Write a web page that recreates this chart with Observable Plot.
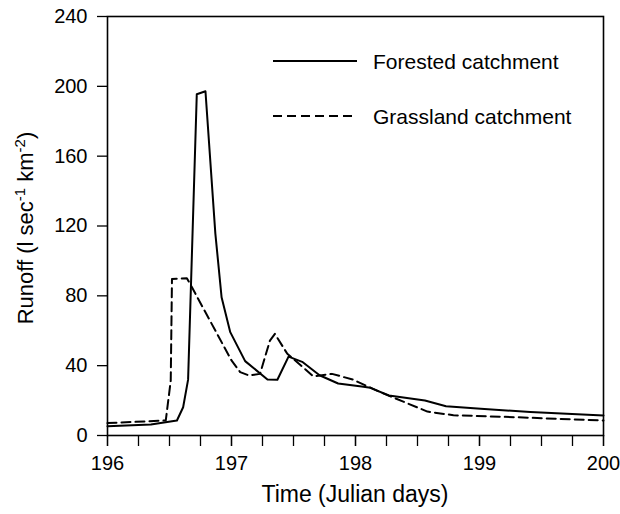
<!DOCTYPE html>
<html><head><meta charset="utf-8">
<script src="https://cdn.jsdelivr.net/npm/d3@7"></script>
<script src="https://cdn.jsdelivr.net/npm/@observablehq/plot@0.6"></script>
<style>
body{margin:0;background:#fff;font-family:"Liberation Sans",Arial,sans-serif}
#chart{position:relative;width:620px;height:514px}
</style>
</head><body><div id="chart"></div>
<script>
// Forested catchment (solid)
const forestedDay = [196.0, 196.35, 196.56, 196.61, 196.65, 196.72, 196.79, 196.87, 196.92, 196.99, 197.11, 197.29, 197.37, 197.46, 197.57, 197.71, 197.86, 198.05, 198.12, 198.27, 198.56, 198.73, 199.01, 199.41, 200.0];
const forestedRunoff = [5.3, 6.3, 8.6, 16.2, 32, 195.5, 197.2, 115.5, 79.2, 59.2, 42.6, 32.1, 31.9, 45.2, 42.2, 34.5, 29.8, 28.1, 27.3, 22.9, 20.0, 16.8, 15.3, 13.4, 11.5];
// Grassland catchment (dashed)
const grassDay = [196.0, 196.47, 196.51, 196.52, 196.64, 196.68, 197.0, 197.07, 197.14, 197.23, 197.31, 197.35, 197.45, 197.56, 197.66, 197.81, 197.98, 198.2, 198.58, 198.79, 199.28, 200.0];
const grassRunoff = [7.1, 8.6, 31.5, 89.7, 90.1, 85, 43, 36.3, 34.4, 35.3, 54.4, 58.2, 46.8, 40.1, 33.9, 35.3, 32.0, 24.8, 13.7, 11.6, 10.5, 8.6];

const xTickLabels = [196, 197, 198, 199, 200];
const xMinorTicks = d3.range(196, 200.001, 0.25);
const yTickLabels = [0, 40, 80, 120, 160, 200, 240];
const seriesNames = ["Forested catchment", "Grassland catchment"];

const forested = forestedDay.map((d, i) => ({day: d, runoff: forestedRunoff[i]}));
const grass = grassDay.map((d, i) => ({day: d, runoff: grassRunoff[i]}));

const W = 620, H = 514;
const mL = 107, mR = 17, mT = 16, mB = 79;

const plot = Plot.plot({
  width: W, height: H,
  marginLeft: mL, marginRight: mR, marginTop: mT, marginBottom: mB,
  style: {fontSize: "20px", fontFamily: "'Liberation Sans', Arial, sans-serif", background: "#fff", color: "#000"},
  x: {domain: [196, 200]},
  y: {domain: [0, 240]},
  marks: [
    Plot.axisY({ticks: yTickLabels, tickSize: 10, tickPadding: 10, label: null, stroke: "#000", strokeWidth: 1.3, fontSize: 20}),
    Plot.axisX({ticks: xMinorTicks, tickSize: 11, tickFormat: () => "", label: null, stroke: "#000", strokeWidth: 1.3}),
    Plot.axisX({ticks: xTickLabels, tickSize: 11, tickPadding: 9, tickFormat: d => String(d), label: null, stroke: "#000", strokeWidth: 1.3, fontSize: 20}),
    Plot.line(grass, {x: "day", y: "runoff", stroke: "#000", strokeWidth: 2, strokeDasharray: "9,5"}),
    Plot.line(forested, {x: "day", y: "runoff", stroke: "#000", strokeWidth: 2}),
    Plot.frame({stroke: "#000", strokeWidth: 1.6})
  ]
});
document.getElementById("chart").appendChild(plot);

const svg = d3.select(plot);
// Y axis label with superscripts
const yl = svg.append("text")
  .attr("transform", `translate(33,228) rotate(-90)`)
  .attr("text-anchor", "middle")
  .attr("font-size", 22).attr("fill", "#000");
yl.append("tspan").text("Runoff (l sec");
yl.append("tspan").attr("dy", -8).attr("font-size", 15).text("-1");
yl.append("tspan").attr("dy", 8).text(" km");
yl.append("tspan").attr("dy", -8).attr("font-size", 15).text("-2");
yl.append("tspan").attr("dy", 8).text(")");
// X axis label
svg.append("text")
  .attr("x", 355).attr("y", 502)
  .attr("text-anchor", "middle").attr("font-size", 23).attr("fill", "#000")
  .text("Time (Julian days)");

// Legend
const lg = svg.append("g").attr("text-anchor", "start");
seriesNames.forEach((name, i) => {
  const y = 61 + i * 55;
  lg.append("line").attr("x1", 273).attr("x2", 357).attr("y1", y).attr("y2", y)
    .attr("stroke", "#000").attr("stroke-width", 2)
    .attr("stroke-dasharray", i === 1 ? "9,5" : null);
  lg.append("text").attr("x", 373).attr("y", y + 7.5).attr("font-size", 21).attr("fill", "#000").text(name);
});
</script>
</body></html>
